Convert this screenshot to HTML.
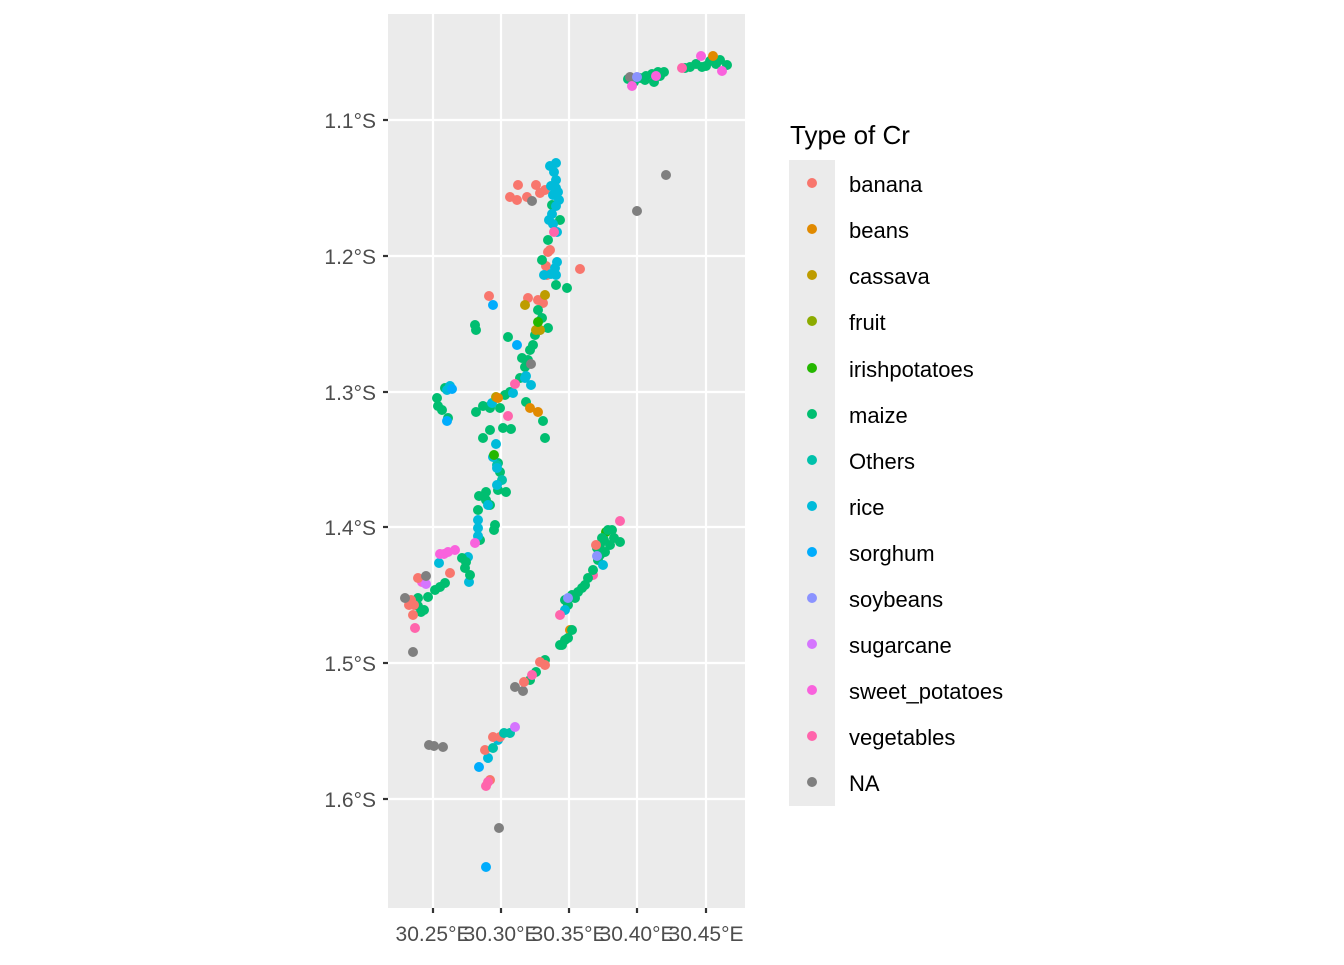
<!DOCTYPE html>
<html><head><meta charset="utf-8"><style>
html,body{margin:0;padding:0;background:#fff;}
svg text{font-family:"Liberation Sans",Arial,sans-serif;}
</style></head><body>
<svg width="1344" height="960" xmlns="http://www.w3.org/2000/svg">
<rect x="388" y="14" width="357" height="894" fill="#EBEBEB"/>
<g stroke="#fff" stroke-width="2.2">
<line x1="388" x2="745" y1="120" y2="120"/><line x1="388" x2="745" y1="256" y2="256"/><line x1="388" x2="745" y1="392" y2="392"/><line x1="388" x2="745" y1="527" y2="527"/><line x1="388" x2="745" y1="663" y2="663"/><line x1="388" x2="745" y1="799" y2="799"/>
<line y1="14" y2="908" x1="433" x2="433"/><line y1="14" y2="908" x1="501" x2="501"/><line y1="14" y2="908" x1="569" x2="569"/><line y1="14" y2="908" x1="637" x2="637"/><line y1="14" y2="908" x1="706" x2="706"/>
</g>
<g stroke="#333" stroke-width="2.2">
<line x1="383" x2="388" y1="120" y2="120"/><line x1="383" x2="388" y1="256" y2="256"/><line x1="383" x2="388" y1="392" y2="392"/><line x1="383" x2="388" y1="527" y2="527"/><line x1="383" x2="388" y1="663" y2="663"/><line x1="383" x2="388" y1="799" y2="799"/>
<line y1="908" y2="913" x1="433" x2="433"/><line y1="908" y2="913" x1="501" x2="501"/><line y1="908" y2="913" x1="569" x2="569"/><line y1="908" y2="913" x1="637" x2="637"/><line y1="908" y2="913" x1="706" x2="706"/>
</g>
<g font-size="21" fill="#4D4D4D" text-anchor="end">
<text x="376" y="128">1.1°S</text><text x="376" y="264">1.2°S</text><text x="376" y="400">1.3°S</text><text x="376" y="535">1.4°S</text><text x="376" y="671">1.5°S</text><text x="376" y="807">1.6°S</text>
</g>
<g font-size="21" fill="#4D4D4D" text-anchor="middle">
<text x="433" y="941">30.25°E</text><text x="501" y="941">30.30°E</text><text x="569" y="941">30.35°E</text><text x="637" y="941">30.40°E</text><text x="706" y="941">30.45°E</text>
</g>
<g>
<g fill="#00BE70">
<circle cx="640" cy="78" r="5"/><circle cx="646" cy="76" r="5"/><circle cx="652" cy="74" r="5"/><circle cx="658" cy="72" r="5"/><circle cx="664" cy="72" r="5"/><circle cx="654" cy="82" r="5"/><circle cx="690" cy="67" r="5"/><circle cx="696" cy="64" r="5"/><circle cx="702" cy="67" r="5"/><circle cx="710" cy="61" r="5"/><circle cx="716" cy="64" r="5"/><circle cx="727" cy="65" r="5"/><circle cx="634" cy="82" r="5"/><circle cx="628" cy="79" r="5"/><circle cx="720" cy="60" r="5"/><circle cx="660" cy="76" r="5"/><circle cx="645" cy="80" r="5"/><circle cx="685" cy="68" r="5"/><circle cx="706" cy="66" r="5"/>
</g>
<circle cx="630" cy="77" r="5" fill="#7F7F7F"/><circle cx="637" cy="77" r="5" fill="#8B93FF"/><circle cx="632" cy="86" r="5" fill="#F962DD"/><circle cx="682" cy="68" r="5" fill="#FF65AC"/><circle cx="701" cy="56" r="5" fill="#F962DD"/><circle cx="713" cy="56" r="5" fill="#E18A00"/><circle cx="722" cy="71" r="5" fill="#F962DD"/><circle cx="656" cy="76" r="5" fill="#F962DD"/><circle cx="666" cy="175" r="5" fill="#7F7F7F"/><circle cx="637" cy="211" r="5" fill="#7F7F7F"/>
<g fill="#F8766D">
<circle cx="518" cy="185" r="5"/><circle cx="510" cy="197" r="5"/><circle cx="517" cy="200" r="5"/><circle cx="536" cy="185" r="5"/><circle cx="540" cy="193" r="5"/><circle cx="527" cy="197" r="5"/><circle cx="548" cy="252" r="5"/><circle cx="546" cy="266" r="5"/><circle cx="547" cy="275" r="5"/><circle cx="580" cy="269" r="5"/><circle cx="489" cy="296" r="5"/><circle cx="528" cy="298" r="5"/><circle cx="538" cy="300" r="5"/><circle cx="543" cy="303" r="5"/><circle cx="550" cy="250" r="5"/><circle cx="545" cy="190" r="5"/>
</g>
<g fill="#00BE70">
<circle cx="548" cy="240" r="5"/><circle cx="542" cy="260" r="5"/><circle cx="556" cy="285" r="5"/><circle cx="567" cy="288" r="5"/><circle cx="538" cy="310" r="5"/><circle cx="542" cy="318" r="5"/><circle cx="475" cy="325" r="5"/><circle cx="476" cy="330" r="5"/><circle cx="548" cy="328" r="5"/><circle cx="508" cy="337" r="5"/><circle cx="533" cy="345" r="5"/><circle cx="530" cy="350" r="5"/><circle cx="522" cy="358" r="5"/><circle cx="528" cy="360" r="5"/><circle cx="540" cy="330" r="5"/><circle cx="445" cy="388" r="5"/><circle cx="442" cy="410" r="5"/><circle cx="448" cy="418" r="5"/><circle cx="476" cy="412" r="5"/><circle cx="483" cy="406" r="5"/><circle cx="490" cy="406" r="5"/><circle cx="505" cy="395" r="5"/><circle cx="510" cy="392" r="5"/><circle cx="526" cy="402" r="5"/><circle cx="543" cy="421" r="5"/><circle cx="490" cy="430" r="5"/><circle cx="503" cy="428" r="5"/><circle cx="511" cy="429" r="5"/><circle cx="483" cy="438" r="5"/><circle cx="545" cy="438" r="5"/><circle cx="498" cy="463" r="5"/><circle cx="500" cy="472" r="5"/><circle cx="506" cy="492" r="5"/><circle cx="479" cy="496" r="5"/><circle cx="486" cy="492" r="5"/><circle cx="490" cy="505" r="5"/><circle cx="478" cy="510" r="5"/><circle cx="495" cy="525" r="5"/><circle cx="494" cy="530" r="5"/><circle cx="480" cy="540" r="5"/><circle cx="560" cy="220" r="5"/><circle cx="552" cy="205" r="5"/><circle cx="535" cy="335" r="5"/><circle cx="525" cy="367" r="5"/><circle cx="520" cy="378" r="5"/><circle cx="500" cy="408" r="5"/><circle cx="486" cy="500" r="5"/><circle cx="498" cy="490" r="5"/><circle cx="437" cy="398" r="5"/><circle cx="438" cy="406" r="5"/><circle cx="490" cy="408" r="5"/>
</g>
<g fill="#00C1AB"><circle cx="497" cy="465" r="5"/><circle cx="502" cy="480" r="5"/></g>
<g fill="#00BBDA">
<circle cx="556" cy="163" r="5"/><circle cx="550" cy="166" r="5"/><circle cx="554" cy="172" r="5"/><circle cx="556" cy="180" r="5"/><circle cx="556" cy="188" r="5"/><circle cx="553" cy="195" r="5"/><circle cx="559" cy="200" r="5"/><circle cx="556" cy="206" r="5"/><circle cx="552" cy="214" r="5"/><circle cx="549" cy="220" r="5"/><circle cx="557" cy="232" r="5"/><circle cx="557" cy="262" r="5"/><circle cx="556" cy="275" r="5"/><circle cx="551" cy="274" r="5"/><circle cx="526" cy="376" r="5"/><circle cx="525" cy="378" r="5"/><circle cx="513" cy="393" r="5"/><circle cx="492" cy="403" r="5"/><circle cx="496" cy="444" r="5"/><circle cx="493" cy="457" r="5"/><circle cx="497" cy="468" r="5"/><circle cx="497" cy="485" r="5"/><circle cx="488" cy="505" r="5"/><circle cx="478" cy="520" r="5"/><circle cx="478" cy="528" r="5"/><circle cx="468" cy="557" r="5"/><circle cx="469" cy="582" r="5"/><circle cx="439" cy="563" r="5"/><circle cx="447" cy="390" r="5"/><circle cx="551" cy="186" r="5"/><circle cx="558" cy="192" r="5"/><circle cx="553" cy="224" r="5"/><circle cx="555" cy="268" r="5"/><circle cx="544" cy="275" r="5"/><circle cx="531" cy="385" r="5"/><circle cx="478" cy="536" r="5"/><circle cx="450" cy="386" r="5"/>
</g>
<g fill="#00ACFC"><circle cx="517" cy="345" r="5"/><circle cx="452" cy="389" r="5"/><circle cx="447" cy="421" r="5"/><circle cx="493" cy="305" r="5"/><circle cx="486" cy="867" r="5"/><circle cx="479" cy="767" r="5"/></g>
<g fill="#BE9C00"><circle cx="525" cy="305" r="5"/><circle cx="545" cy="295" r="5"/><circle cx="540" cy="330" r="5"/><circle cx="496" cy="397" r="5"/><circle cx="536" cy="330" r="5"/></g>
<g fill="#E18A00"><circle cx="498" cy="398" r="5"/><circle cx="530" cy="408" r="5"/><circle cx="538" cy="412" r="5"/><circle cx="570" cy="630" r="5"/></g>
<g fill="#24B700"><circle cx="538" cy="322" r="5"/><circle cx="494" cy="455" r="5"/><circle cx="606" cy="532" r="5"/></g>
<circle cx="532" cy="201" r="5" fill="#7F7F7F"/><circle cx="531" cy="364" r="5" fill="#7F7F7F"/>
<g fill="#FF65AC"><circle cx="554" cy="232" r="5"/><circle cx="515" cy="384" r="5"/><circle cx="508" cy="416" r="5"/><circle cx="620" cy="521" r="5"/><circle cx="593" cy="575" r="5"/></g>
<g fill="#F962DD"><circle cx="440" cy="554" r="5"/><circle cx="448" cy="552" r="5"/><circle cx="455" cy="550" r="5"/><circle cx="475" cy="543" r="5"/><circle cx="422" cy="582" r="5"/><circle cx="444" cy="554" r="5"/></g>
<g fill="#00BE70">
<circle cx="462" cy="558" r="5"/><circle cx="465" cy="568" r="5"/><circle cx="470" cy="575" r="5"/><circle cx="445" cy="583" r="5"/><circle cx="435" cy="590" r="5"/><circle cx="428" cy="597" r="5"/><circle cx="418" cy="606" r="5"/><circle cx="424" cy="610" r="5"/><circle cx="418" cy="598" r="5"/><circle cx="466" cy="562" r="5"/><circle cx="440" cy="587" r="5"/><circle cx="421" cy="612" r="5"/>
</g>
<g fill="#F8766D"><circle cx="411" cy="600" r="5"/><circle cx="414" cy="605" r="5"/><circle cx="418" cy="578" r="5"/><circle cx="413" cy="615" r="5"/><circle cx="450" cy="573" r="5"/><circle cx="409" cy="605" r="5"/></g>
<circle cx="415" cy="628" r="5" fill="#FF65AC"/><circle cx="426" cy="584" r="5" fill="#D575FE"/>
<g fill="#7F7F7F"><circle cx="405" cy="598" r="5"/><circle cx="426" cy="576" r="5"/><circle cx="413" cy="652" r="5"/><circle cx="429" cy="745" r="5"/><circle cx="434" cy="746" r="5"/><circle cx="443" cy="747" r="5"/><circle cx="499" cy="828" r="5"/><circle cx="515" cy="687" r="5"/><circle cx="523" cy="691" r="5"/></g>
<g fill="#00BE70">
<circle cx="608" cy="530" r="5"/><circle cx="602" cy="538" r="5"/><circle cx="614" cy="538" r="5"/><circle cx="620" cy="542" r="5"/><circle cx="597" cy="548" r="5"/><circle cx="605" cy="552" r="5"/><circle cx="598" cy="560" r="5"/><circle cx="593" cy="570" r="5"/><circle cx="588" cy="578" r="5"/><circle cx="585" cy="585" r="5"/><circle cx="578" cy="592" r="5"/><circle cx="572" cy="595" r="5"/><circle cx="565" cy="600" r="5"/><circle cx="568" cy="605" r="5"/><circle cx="572" cy="630" r="5"/><circle cx="568" cy="638" r="5"/><circle cx="562" cy="645" r="5"/><circle cx="565" cy="640" r="5"/><circle cx="545" cy="660" r="5"/><circle cx="536" cy="672" r="5"/><circle cx="530" cy="680" r="5"/><circle cx="612" cy="530" r="5"/><circle cx="600" cy="545" r="5"/><circle cx="604" cy="540" r="5"/><circle cx="610" cy="545" r="5"/><circle cx="600" cy="555" r="5"/><circle cx="582" cy="588" r="5"/><circle cx="575" cy="598" r="5"/><circle cx="560" cy="645" r="5"/>
</g>
<g fill="#00BBDA"><circle cx="565" cy="610" r="5"/><circle cx="603" cy="565" r="5"/><circle cx="498" cy="740" r="5"/><circle cx="488" cy="758" r="5"/></g>
<g fill="#8B93FF"><circle cx="568" cy="598" r="5"/><circle cx="597" cy="556" r="5"/></g>
<g fill="#F8766D"><circle cx="596" cy="545" r="5"/><circle cx="540" cy="662" r="5"/><circle cx="545" cy="665" r="5"/><circle cx="524" cy="682" r="5"/><circle cx="493" cy="737" r="5"/><circle cx="500" cy="737" r="5"/><circle cx="485" cy="750" r="5"/><circle cx="490" cy="780" r="5"/></g>
<g fill="#FF65AC"><circle cx="560" cy="615" r="5"/><circle cx="486" cy="786" r="5"/><circle cx="488" cy="782" r="5"/><circle cx="532" cy="675" r="5"/></g>
<g fill="#00C1AB"><circle cx="510" cy="733" r="5"/><circle cx="504" cy="733" r="5"/><circle cx="493" cy="748" r="5"/></g>
<circle cx="515" cy="727" r="5" fill="#D575FE"/>
</g>
<text x="790" y="144" font-size="26" fill="#000">Type of Cr</text>
<rect x="789" y="160" width="46" height="646" fill="#EBEBEB"/>
<g>
<circle cx="812" cy="183" r="5" fill="#F8766D"/><circle cx="812" cy="229" r="5" fill="#E18A00"/><circle cx="812" cy="275" r="5" fill="#BE9C00"/><circle cx="812" cy="321" r="5" fill="#8CAB00"/><circle cx="812" cy="368" r="5" fill="#24B700"/><circle cx="812" cy="414" r="5" fill="#00BE70"/><circle cx="812" cy="460" r="5" fill="#00C1AB"/><circle cx="812" cy="506" r="5" fill="#00BBDA"/><circle cx="812" cy="552" r="5" fill="#00ACFC"/><circle cx="812" cy="598" r="5" fill="#8B93FF"/><circle cx="812" cy="644" r="5" fill="#D575FE"/><circle cx="812" cy="690" r="5" fill="#F962DD"/><circle cx="812" cy="736" r="5" fill="#FF65AC"/><circle cx="812" cy="782" r="5" fill="#7F7F7F"/>
</g>
<g font-size="22" fill="#000">
<text x="849" y="192">banana</text><text x="849" y="238">beans</text><text x="849" y="284">cassava</text><text x="849" y="330">fruit</text><text x="849" y="377">irishpotatoes</text><text x="849" y="423">maize</text><text x="849" y="469">Others</text><text x="849" y="515">rice</text><text x="849" y="561">sorghum</text><text x="849" y="607">soybeans</text><text x="849" y="653">sugarcane</text><text x="849" y="699">sweet_potatoes</text><text x="849" y="745">vegetables</text><text x="849" y="791">NA</text>
</g>
</svg>
</body></html>
